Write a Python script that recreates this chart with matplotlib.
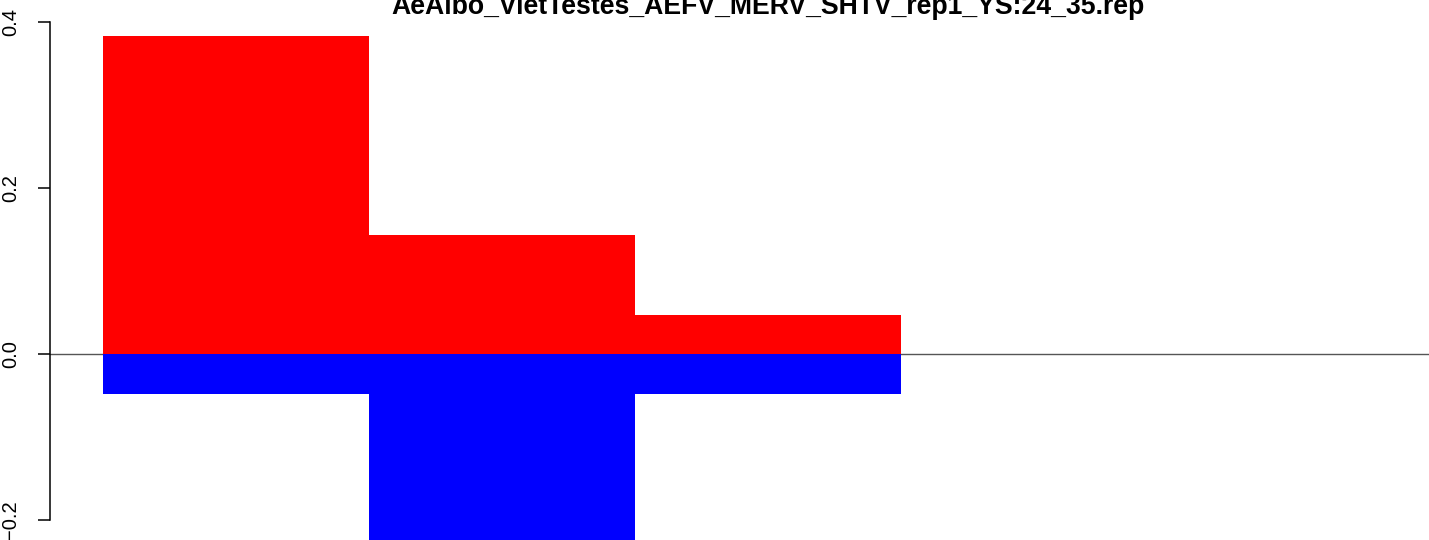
import matplotlib
matplotlib.use("Agg")
import matplotlib.pyplot as plt

plt.rcParams['font.family'] = ['Liberation Sans', 'DejaVu Sans']

title = "AeAlbo_VietTestes_AEFV_MERV_SHTV_rep1_YS:24_35.rep"
positive = [0.383, 0.143, 0.047, 0.0, 0.0]
negative = [-0.048, -0.26, -0.048, 0.0, 0.0]
yticks = [-0.2, 0.0, 0.2, 0.4]
ytick_labels = ["\u22120.2", "0.0", "0.2", "0.4"]

W, H = 1429, 540
dpi = 100
fig = plt.figure(figsize=(W / dpi, H / dpi), dpi=dpi)

# plot region in pixels (R-style region, partly cropped by the image)
left_px, right_px = 50, 1486
ylo, yhi = -0.3, 0.42
zero_px, px_per_unit = 354, 830
top_px = zero_px - yhi * px_per_unit
bot_px = zero_px - ylo * px_per_unit
ax = fig.add_axes([left_px / W, 1 - bot_px / H, (right_px - left_px) / W, (bot_px - top_px) / H])
ax.set_xlim(-0.2, 5.2)
ax.set_ylim(ylo, yhi)

x = list(range(len(positive)))
ax.axhline(0, color="#555555", lw=1.0, zorder=1)
ax.bar(x, positive, width=1.0, align="edge", color="#ff0000", zorder=2, linewidth=0)
ax.bar(x, negative, width=1.0, align="edge", color="#0000ff", zorder=2, linewidth=0)

for s in ["top", "right", "bottom"]:
    ax.spines[s].set_visible(False)
ax.spines["left"].set_bounds(-0.2, 0.4)
ax.spines["left"].set_linewidth(1.1)
ax.set_xticks([])
ax.set_yticks(yticks)
ax.set_yticklabels(ytick_labels, rotation=90, va="center", fontsize=14.5)
ax.tick_params(axis="y", length=8.6, width=1.1, pad=13)

fig.text(0.5 * (left_px + right_px) / W, 1 - 14 / H, title, ha="center", va="baseline",
         fontsize=19.2, fontweight="bold")

fig.savefig("out.png", dpi=dpi)
